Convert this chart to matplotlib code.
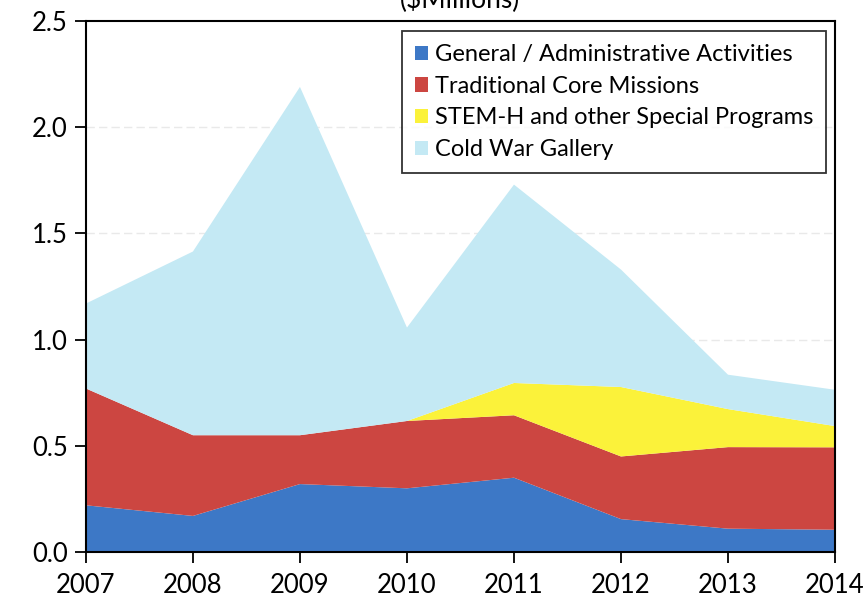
import matplotlib
matplotlib.use("Agg")
import matplotlib.pyplot as plt
from matplotlib.patches import Patch

years = [2007, 2008, 2009, 2010, 2011, 2012, 2013, 2014]
general = [0.22, 0.17, 0.32, 0.30, 0.35, 0.155, 0.11, 0.105]
core = [0.55, 0.38, 0.23, 0.317, 0.294, 0.295, 0.384, 0.388]
stem = [0.0, 0.0, 0.0, 0.0, 0.152, 0.327, 0.179, 0.10]
coldwar = [0.40, 0.865, 1.64, 0.44, 0.934, 0.553, 0.162, 0.171]

labels = ["General / Administrative Activities", "Traditional Core Missions",
          "STEM-H and other Special Programs", "Cold War Gallery"]
colors = ["#3d78c6", "#cc4641", "#fbf23a", "#c4e9f4"]
yticks = [0.0, 0.5, 1.0, 1.5, 2.0, 2.5]

plt.rcParams['font.family'] = ['Lato', 'DejaVu Sans']

fig = plt.figure(figsize=(8.68, 6.02), dpi=100)
ax = fig.add_axes([0.099, 0.083, 0.863, 0.882])

for y in yticks[1:-1]:
    ax.axhline(y, color="#e9e9e9", lw=1.0, ls=(0, (6, 3)), zorder=0)

ax.stackplot(years, general, core, stem, coldwar, colors=colors, zorder=1, lw=0)

ax.set_xlim(2007, 2014)
ax.set_ylim(0, 2.5)
ax.set_xticks(years)
ax.set_xticklabels([str(y) for y in years])
ax.set_yticks(yticks)
ax.set_yticklabels([f"{v:.1f}" for v in yticks])
ax.tick_params(axis='both', direction='out', length=8, width=1.3, labelsize=18.5, colors='black')
ax.tick_params(axis='x', pad=7)
ax.tick_params(axis='y', pad=5)
for s in ax.spines.values():
    s.set_linewidth(1.5)
    s.set_color('black')

handles = [Patch(facecolor=c, edgecolor='none') for c in colors]
leg = ax.legend(handles, labels, loc='upper right', bbox_to_anchor=(0.988, 0.981),
                fontsize=17, frameon=True, fancybox=False, handlelength=0.55,
                handleheight=0.55, handletextpad=0.3, borderpad=0.55, labelspacing=0.45,
                borderaxespad=0)
leg.get_frame().set_edgecolor('black')
leg.get_frame().set_linewidth(1.3)

fig.text(0.53, 0.987, "($Millions)", ha='center', va='baseline', fontsize=19)

fig.savefig("out.png", dpi=100)
